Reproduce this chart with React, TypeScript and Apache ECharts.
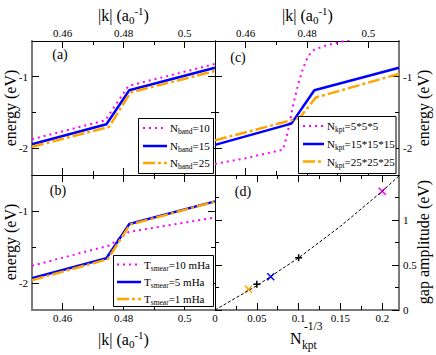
import React, { useEffect, useRef } from 'react';
import * as echarts from 'echarts';

// ---------- tick values ----------
const kMajorTicks = [0.46, 0.48, 0.5];
const kMinorTicks = [0.47, 0.49];
const eMajorTicks = [-2, -1];
const eMinorTicks = [-1.5];
const nMajorTicks = [0, 0.05, 0.1, 0.15, 0.2];
const nMinorTicks = [0.025, 0.075, 0.125, 0.175];
const gapMajorTicks = [0, 0.5, 1];
const gapMinorTicks = [0.25, 0.75, 1.25];

// ---------- (a) band count ----------
const aBand10 = [[0.45, -1.875], [0.474, -1.61], [0.4816, -1.13], [0.51, -0.82]];
const aBand15 = [[0.45, -1.944], [0.4744, -1.665], [0.4819, -1.19], [0.51, -0.874]];
const aBand25 = [[0.45, -1.98], [0.4753, -1.70], [0.4823, -1.22], [0.51, -0.92]];

// ---------- (b) smearing ----------
const bT10 = [[0.45, -1.76], [0.4753, -1.48], [0.4818, -1.29], [0.51, -1.09]];
const bT5 = [[0.45, -1.934], [0.4744, -1.656], [0.4819, -1.18], [0.51, -0.866]];
const bT1 = [[0.45, -1.96], [0.4748, -1.67], [0.4821, -1.19], [0.51, -0.87]];

// ---------- (c) k-point grid ----------
const cK5 = [[0.45, -2.22], [0.46, -2.14], [0.4722, -2.02], [0.4733, -1.85], [0.4744, -1.64],
  [0.4755, -1.39], [0.4771, -1.11], [0.4788, -0.87], [0.4804, -0.71], [0.4824, -0.62],
  [0.4864, -0.56], [0.4913, -0.51], [0.5, -0.42], [0.51, -0.33]];
const cK15 = [[0.45, -1.954], [0.4749, -1.656], [0.4824, -1.19], [0.51, -0.874]];
const cK25 = [[0.45, -1.89], [0.4775, -1.58], [0.4829, -1.29], [0.51, -0.96]];

// ---------- (d) gap amplitude ----------
const dFit = [[0, 0], [0.05, 0.27], [0.1, 0.58], [0.15, 0.93], [0.2, 1.32], [0.22, 1.49]];
const dK5 = [[0.2, 1.32]];
const dK15 = [[0.0667, 0.37]];
const dK25 = [[0.04, 0.23]];
const dExtra = [[0.1, 0.58], [0.05, 0.285]];

// ---------- legend labels ----------
const legendA = ['10', '15', '25'];
const legendB = ['10 mHa', '5 mHa', '1 mHa'];
const legendC = ['5*5*5', '15*15*15', '25*25*25'];

const FONT = 'Liberation Serif, Times New Roman, serif';
const MAGENTA = '#ff00ff';
const BLUE = '#0000ff';
const ORANGE = '#ffa500';

const dottedStyle = { color: MAGENTA, width: 2, type: [2, 4] };
const solidStyle = { color: BLUE, width: 2.5, type: 'solid' };
const dashStyle = { color: ORANGE, width: 2.5, type: [12, 3, 3, 3] };

const OUTER = { color: '#7a7a7a', width: 2 };
const INNER = { color: '#000', width: 1 };

const kRange = { min: 0.45, max: 0.51, major: kMajorTicks, minor: kMinorTicks };
const eRange = { min: -2.375, max: -0.5, major: eMajorTicks, minor: eMinorTicks };
const nRange = { min: 0, max: 0.22, major: nMajorTicks, minor: nMinorTicks };
const gRange = { min: 0, max: 1.5, major: gapMajorTicks, minor: gapMinorTicks };

const panels = [
  { rect: { left: 32, top: 41, width: 183, height: 134 }, x: kRange, y: eRange, xLab: 'top', yLab: 'left',
    edge: { bottom: INNER, top: INNER, left: OUTER, right: INNER } },
  { rect: { left: 32, top: 175, width: 183, height: 135 }, x: kRange, y: eRange, xLab: 'bottom', yLab: 'left',
    edge: { bottom: OUTER, top: INNER, left: OUTER, right: INNER } },
  { rect: { left: 215, top: 41, width: 184, height: 134 }, x: kRange, y: eRange, xLab: 'top', yLab: 'right',
    edge: { bottom: INNER, top: INNER, left: INNER, right: OUTER } },
  { rect: { left: 215, top: 175, width: 184, height: 135 }, x: nRange, y: gRange, xLab: 'bottom', yLab: 'right',
    edge: { bottom: OUTER, top: INNER, left: INNER, right: OUTER } },
];

function axis(gridIndex: number, position: string, range: any, minor: boolean, showLabel: boolean, line: any) {
  const ticks = minor ? range.minor : range.major;
  const isX = position === 'top' || position === 'bottom';
  return {
    type: 'value',
    gridIndex,
    position,
    min: range.min,
    max: range.max,
    axisLine: { show: !minor, onZero: false, lineStyle: line },
    axisTick: { show: true, inside: true, length: minor ? 4 : 7, customValues: ticks, lineStyle: { color: '#000', width: 1 } },
    axisLabel: {
      show: showLabel, customValues: ticks, margin: isX ? 2.5 : 4,
      fontFamily: FONT, fontSize: 11, color: '#000',
      formatter: '{v|{value}}',
      rich: { v: { fontFamily: FONT, fontSize: 11, color: '#000' } },
    },
    splitLine: { show: false },
    minorTick: { show: false },
  };
}

function buildOption() {
  const grid: any[] = [];
  const xAxis: any[] = [];
  const yAxis: any[] = [];
  panels.forEach((p) => grid.push({ ...p.rect, containLabel: false, outerBoundsMode: 'none' }));
  panels.forEach((p) => grid.push({ ...p.rect, containLabel: false, outerBoundsMode: 'none' }));
  [false, true].forEach((minor) => {
    panels.forEach((p, i) => {
      const g = minor ? i + 4 : i;
      xAxis.push(axis(g, 'bottom', p.x, minor, !minor && p.xLab === 'bottom', p.edge.bottom));
      xAxis.push(axis(g, 'top', p.x, minor, !minor && p.xLab === 'top', p.edge.top));
      yAxis.push(axis(g, 'left', p.y, minor, !minor && p.yLab === 'left', p.edge.left));
      yAxis.push(axis(g, 'right', p.y, minor, !minor && p.yLab === 'right', p.edge.right));
    });
  });

  const line = (panel: number, data: number[][], style: any) => ({
    type: 'line', xAxisIndex: panel * 2, yAxisIndex: panel * 2, data, symbol: 'none',
    lineStyle: style, clip: true, silent: true,
  });
  const CROSS = 'path://M0 0L10 10M10 0L0 10';
  const PLUS = 'path://M5 0L5 10M0 5L10 5';
  const marks = (data: number[][], color: string, sym: string) => ({
    type: 'scatter', xAxisIndex: 6, yAxisIndex: 6, data, symbol: sym, symbolSize: 7,
    itemStyle: { color: 'none', borderColor: color, borderWidth: 1.5, opacity: 1 }, silent: true,
  });

  const series = [
    line(0, aBand10, dottedStyle), line(0, aBand15, solidStyle), line(0, aBand25, dashStyle),
    line(1, bT10, dottedStyle), line(1, bT5, solidStyle), line(1, bT1, dashStyle),
    line(2, cK5, dottedStyle), line(2, cK15, solidStyle), line(2, cK25, dashStyle),
    line(3, dFit, { color: '#000', width: 1, type: [3, 2] }),
    marks(dK5, MAGENTA, CROSS), marks(dK15, BLUE, CROSS), marks(dK25, ORANGE, CROSS),
    marks(dExtra, '#000', PLUS),
  ];

  const richSmall = {
    m: { fontSize: 11, fontFamily: FONT, fill: '#000', lineHeight: 15 },
    s: { fontSize: 7.5, fontFamily: FONT, fill: '#000', lineHeight: 8, verticalAlign: 'bottom' },
  };
  const richBig = {
    m: { fontSize: 16, fontFamily: FONT, fill: '#000', lineHeight: 20 },
    s: { fontSize: 11, fontFamily: FONT, fill: '#000', lineHeight: 11, verticalAlign: 'bottom' },
    p: { fontSize: 11, fontFamily: FONT, fill: '#000', lineHeight: 11, verticalAlign: 'top' },
  };
  const styles = [dottedStyle, solidStyle, dashStyle];
  const legend = (box: number[], sx: number[], tx: number, ys: number[], sym: string, sub: string, vals: string[]) => {
    const els: any[] = [{
      type: 'rect', z: 100, shape: { x: box[0], y: box[1], width: box[2], height: box[3] },
      style: { fill: '#fff', stroke: '#000', lineWidth: 1 },
    }];
    vals.forEach((v, i) => {
      const st = styles[i];
      els.push({
        type: 'line', z: 101, shape: { x1: sx[0], y1: ys[i], x2: sx[1], y2: ys[i] },
        style: { stroke: st.color, lineWidth: st.width, lineDash: Array.isArray(st.type) ? st.type : null },
      });
      els.push({
        type: 'text', z: 101, x: tx, y: ys[i],
        style: { text: `{m|${sym}}{s|${sub}}{m|=${v}}`, rich: richSmall, align: 'left', verticalAlign: 'middle' },
      });
    });
    return els;
  };
  const txt = (x: number, y: number, text: string, size: number, rotation = 0, align = 'center') => ({
    type: 'text', z: 100, x, y, rotation,
    style: { text, fontFamily: FONT, fontSize: size, fill: '#000', align, verticalAlign: 'middle' },
  });
  const kTitle = (x: number, y: number) => ({
    type: 'text', z: 100, x, y,
    style: { text: '{m||k| (a}{s|0}{p|-1}{m|)}', rich: richBig, align: 'center', verticalAlign: 'middle' },
  });

  const graphic = [
    ...legend([138.5, 118.5, 75, 55], [143, 167], 170, [128, 146, 163], 'N', 'band', legendA),
    ...legend([113.5, 255.5, 100, 51], [117, 141], 144, [264.5, 282, 299], 'T', 'smear', legendB),
    ...legend([298.5, 116.5, 97.5, 57], [303, 324], 327, [126, 144, 161.5], 'N', 'kpt', legendC),
    kTitle(123.5, 15), kTitle(307.5, 15), kTitle(123.5, 339),
    txt(10, 108, 'energy (eV)', 16, Math.PI / 2),
    txt(10, 242, 'energy (eV)', 16, Math.PI / 2),
    txt(423, 108, 'energy (eV)', 16, Math.PI / 2),
    txt(423, 242, 'gap amplitude (eV)', 16, Math.PI / 2),
    txt(290, 338.5, 'N', 16, 0, 'left'),
    txt(302, 345, 'kpt', 11.5, 0, 'left'),
    txt(304, 326, '-1/3', 11.5, 0, 'left'),
    txt(60, 54, '(a)', 14), txt(58, 190, '(b)', 14),
    txt(238, 57, '(c)', 14), txt(243, 191, '(d)', 14),
  ];

  return {
    animation: false, backgroundColor: '#fff', textStyle: { fontFamily: FONT },
    grid, xAxis, yAxis, series, graphic,
  };
}

export default function App() {
  const ref = useRef<HTMLDivElement>(null);
  useEffect(() => {
    document.body.style.margin = '0';
    const chart = echarts.init(ref.current!, undefined, { renderer: 'svg' });
    chart.setOption(buildOption() as any);
    return () => chart.dispose();
  }, []);
  return <div ref={ref} style={{ position: 'fixed', left: 0, top: 0, width: 436, height: 355 }} />;
}
